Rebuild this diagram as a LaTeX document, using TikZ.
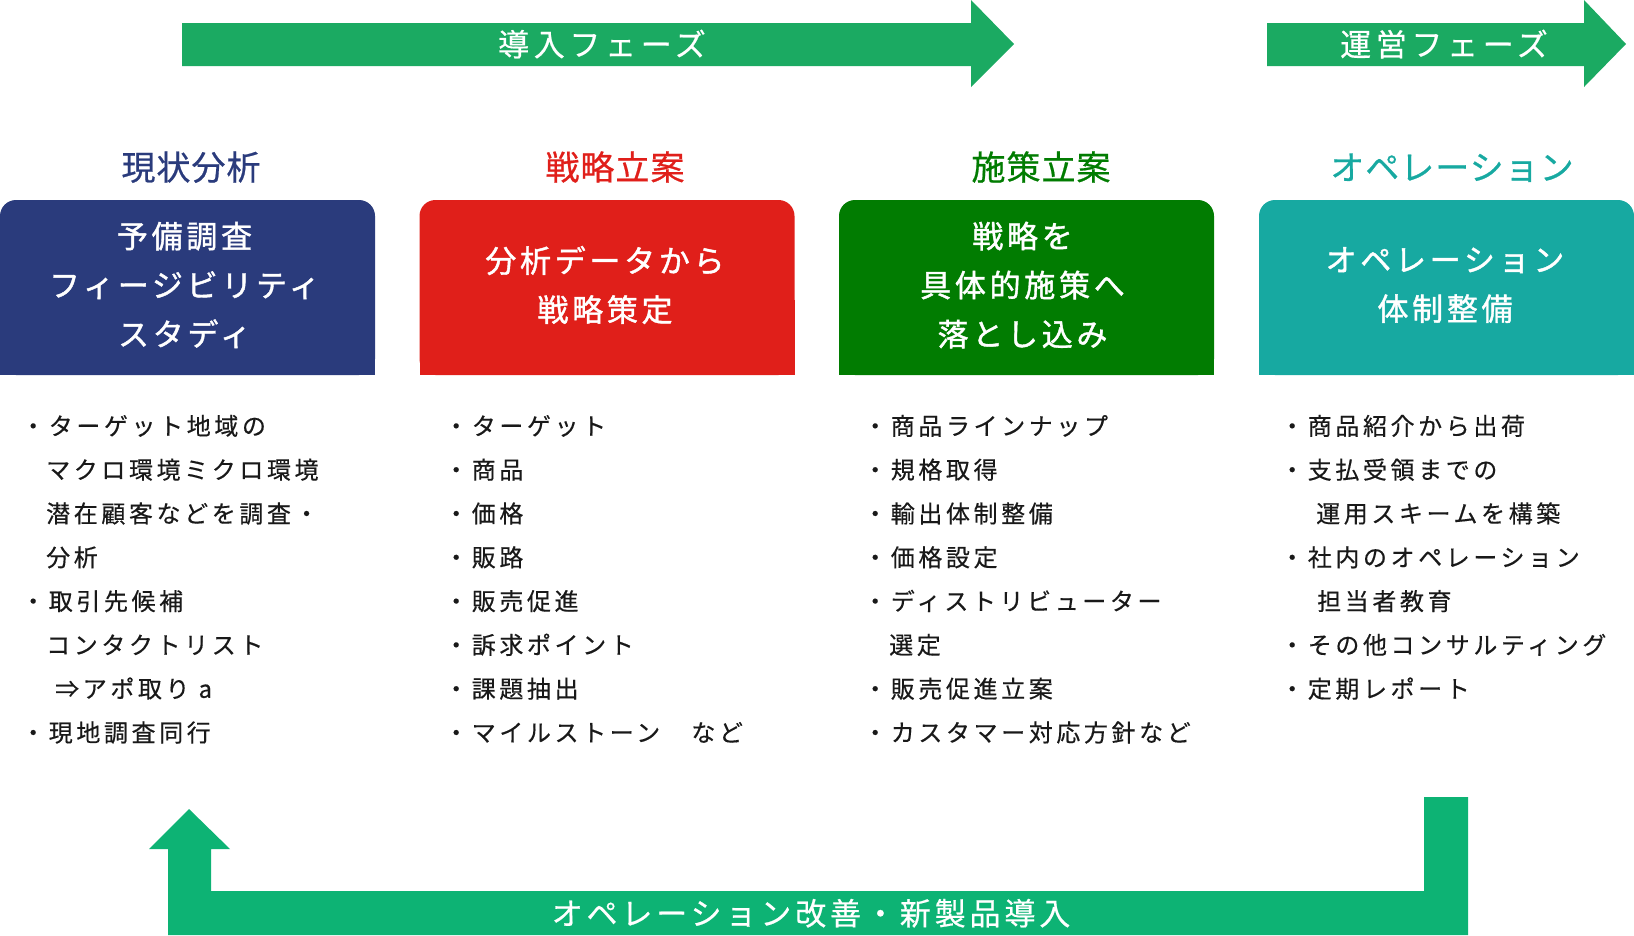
\documentclass[tikz,border=0pt]{standalone}
\usepackage{fontspec}
\newfontfamily\titlef{Noto Sans CJK JP}[LetterSpace=3,FakeBold=0.6]
\newfontfamily\boxf{Noto Sans CJK JP}[LetterSpace=12,FakeBold=1.3]
\newfontfamily\listf{Noto Sans CJK JP}[LetterSpace=15,FakeBold=0.4]
\newfontfamily\phasef{Noto Sans CJK JP}[LetterSpace=15,FakeBold=0.5]
\newfontfamily\loopf{Noto Sans CJK JP}[LetterSpace=12.5,FakeBold=0.5]
\definecolor{cArrow}{HTML}{1BAA62}
\definecolor{cLoop}{HTML}{0DB374}
\definecolor{cNavy}{HTML}{2A3B7C}
\definecolor{cRed}{HTML}{E01F1A}
\definecolor{cGreen}{HTML}{017C01}
\definecolor{cTeal}{HTML}{17A9A1}
\begin{document}
\begin{tikzpicture}[x=1pt,y=-1pt,
  lbl/.style={inner sep=0pt, anchor=base},
  ttl/.style={lbl, font=\titlef\fontsize{34}{40}\selectfont},
  boxtxt/.style={inner sep=0pt, align=center, text=white, font=\boxf\fontsize{31}{49}\selectfont},
  lst/.style={lbl, anchor=base west, text=black!90, font=\listf\fontsize{24}{30}\selectfont},
  phase/.style={lbl, text=white, font=\phasef\fontsize{31}{36}\selectfont},
  loopl/.style={lbl, text=white, font=\loopf\fontsize{31}{36}\selectfont},
  boxshape/.style={rounded corners=16pt}
]
\useasboundingbox (0,0) rectangle (1634,935);

% phase arrows
\fill[cArrow] (182,23) -- (971,23) -- (971,0) -- (1014,44) -- (971,87) -- (971,66) -- (182,66) -- cycle;
\fill[cArrow] (1267,23) -- (1584,23) -- (1584,0) -- (1626,44) -- (1584,87) -- (1584,66) -- (1267,66) -- cycle;
\node[phase] (ph1) at (602,44+12) {導入フェーズ};
\node[phase] (ph2) at (1444,44+12) {運営フェーズ};

% titles
\node[ttl, text=cNavy] (t1) at (191,167+13) {現状分析};
\node[ttl, text=cRed] (t2) at (615,167+13) {戦略立案};
\node[ttl, text=cGreen] (t3) at (1041,167+13) {施策立案};
\node[ttl, text=cTeal] (t4) at (1452,167+13) {オペレーション};

% boxes
\foreach \bx/\bc in {0/cNavy, 419.5/cRed, 839/cGreen, 1259/cTeal}{
  \fill[\bc, boxshape] (\bx,200) rectangle (\bx+375,375);
  \fill[\bc] (\bx,300) rectangle (\bx+375,375);
}
\node[boxtxt] (b1) at (184.5,285) {予備調査\\フィージビリティ\\スタディ};
\node[boxtxt] (b2) at (605,285) {分析データから\\戦略策定};
\node[boxtxt] (b3) at (1022.5,285) {戦略を\\具体的施策へ\\落とし込み};
\node[boxtxt] (b4) at (1445,285) {オペレーション\\体制整備};

% lists
\foreach \x/\k/\t [count=\i] in {21/0/・ターゲット地域の, 46/1/マクロ環境ミクロ環境, 46/2/潜在顧客などを調査・, 46/3/分析, 21/4/・取引先候補, 46/5/コンタクトリスト, 55/6/⇒アポ取り a, 21/7/・現地調査同行}
  \node[lst] (c1-\i) at (\x,435+43.8*\k) {\t};
\foreach \x/\k/\t [count=\i] in {444/0/・ターゲット, 444/1/・商品, 444/2/・価格, 444/3/・販路, 444/4/・販売促進, 444/5/・訴求ポイント, 444/6/・課題抽出, 444/7/・マイルストーン　など}
  \node[lst] (c2-\i) at (\x,435+43.8*\k) {\t};
\foreach \x/\k/\t [count=\i] in {863/0/・商品ラインナップ, 863/1/・規格取得, 863/2/・輸出体制整備, 863/3/・価格設定, 863/4/・ディストリビューター, 889/5/選定, 863/6/・販売促進立案, 863/7/・カスタマー対応方針など}
  \node[lst] (c3-\i) at (\x,435+43.8*\k) {\t};
\foreach \x/\k/\t [count=\i] in {1280/0/・商品紹介から出荷, 1280/1/・支払受領までの, 1316/2/運用スキームを構築, 1280/3/・社内のオペレーション, 1317/4/担当者教育, 1280/5/・その他コンサルティング, 1280/6/・定期レポート}
  \node[lst] (c4-\i) at (\x,435+43.8*\k) {\t};

% loop arrow
\fill[cLoop] (1424,797) -- (1468,797) -- (1468,935) -- (168,935) -- (168,849) -- (149,849) -- (189,809) -- (230,849) -- (211,849) -- (211,891) -- (1424,891) -- cycle;
\node[loopl] (loop) at (811,913+12) {オペレーション改善・新製品導入};
\end{tikzpicture}
\end{document}
